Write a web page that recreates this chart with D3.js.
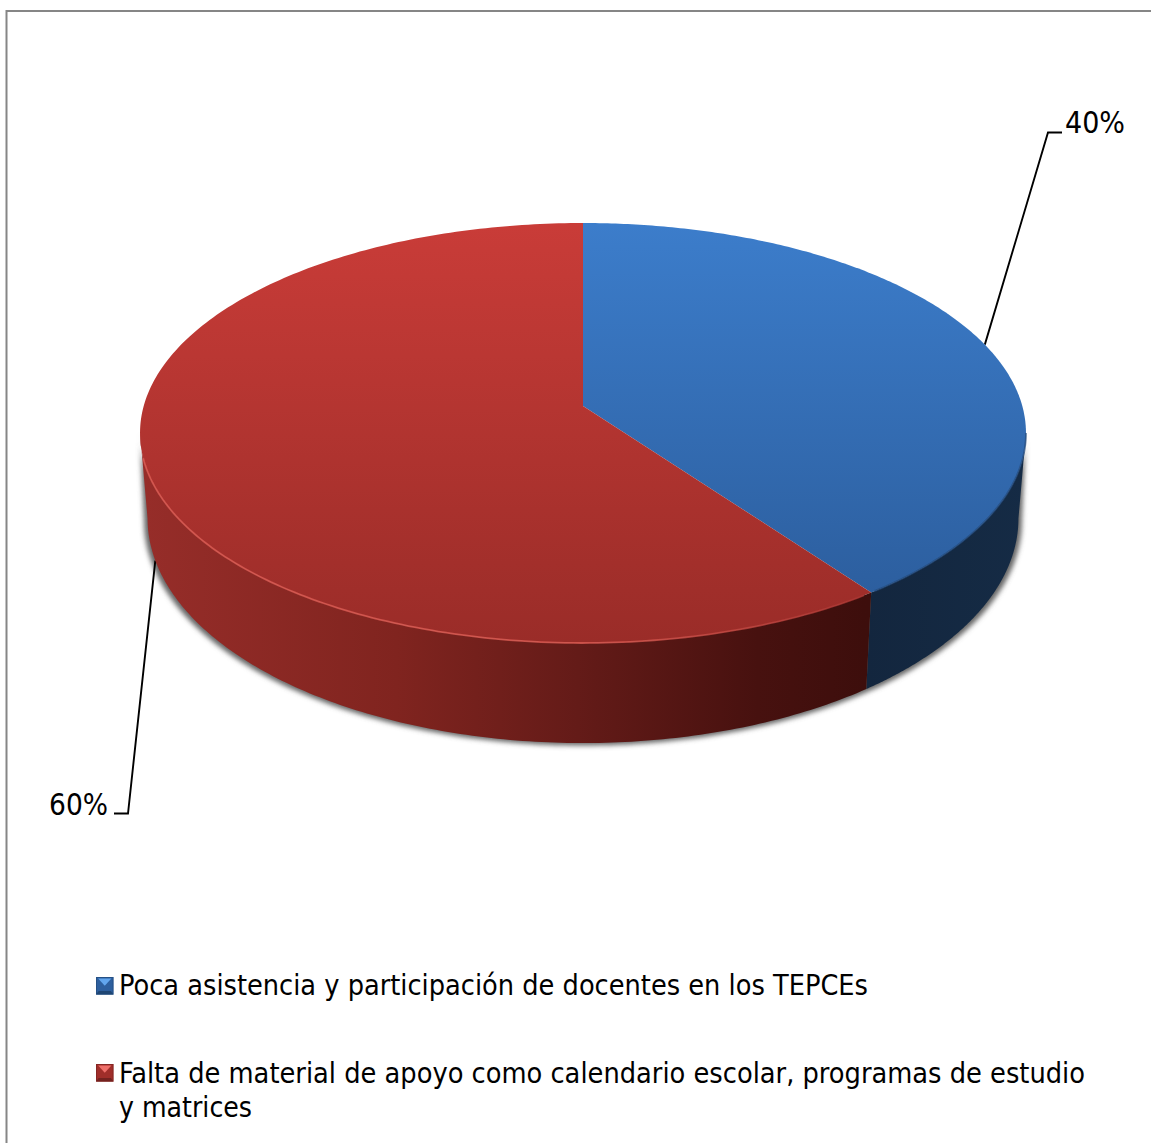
<!DOCTYPE html>
<html><head><meta charset="utf-8">
<script src="https://cdnjs.cloudflare.com/ajax/libs/d3/7.9.0/d3.min.js"></script>
<style>html,body{margin:0;padding:0;background:#fff;overflow:hidden}svg{display:block}text{font-family:"DejaVu Sans Condensed","DejaVu Sans",sans-serif;font-stretch:condensed;fill:#000}</style>
</head><body>
<script>
const categories = ["Poca asistencia y participación de docentes en los TEPCEs","Falta de material de apoyo como calendario escolar, programas de estudio y matrices"];
const values = [40, 60];
const legendLines = [["Poca asistencia y participación de docentes en los TEPCEs"],["Falta de material de apoyo como calendario escolar, programas de estudio","y matrices"]];

const W=1151,H=1143;
const svg=d3.select("body").append("svg").attr("width",W).attr("height",H);
const defs=svg.append("defs");
function grad(id,x1,y1,x2,y2,stops){
  const g=defs.append("linearGradient").attr("id",id).attr("gradientUnits","userSpaceOnUse")
   .attr("x1",x1).attr("y1",y1).attr("x2",x2).attr("y2",y2);
  stops.forEach(s=>g.append("stop").attr("offset",s[0]).attr("stop-color",s[1]));
}
grad("topB",0,223,0,600,[[0,"#3c7dcb"],[1,"#2c5e9e"]]);
grad("topR",0,223,0,643,[[0,"#c93c38"],[1,"#9a2c28"]]);
grad("wallB",866,0,1026,0,[[0,"#13263e"],[1,"#152b45"]]);
grad("wallR",145,0,866,0,[[0,"#962d29"],[.35,"#80241f"],[.6,"#641b18"],[.85,"#47110f"],[1,"#3d0e0c"]]);
grad("rimR",150,0,880,0,[[0,"#dc5b53"],[.6,"#dc5b53"],[1,"#a8322e"]]);
defs.append("filter").attr("id","blur").attr("x","-5%").attr("y","-5%").attr("width","110%").attr("height","110%")
  .append("feGaussianBlur").attr("stdDeviation",2.8);
defs.append("filter").attr("id","soft").attr("x","-5%").attr("y","-5%").attr("width","110%").attr("height","110%")
  .append("feGaussianBlur").attr("stdDeviation",0.7);

// frame
svg.append("path").attr("d",d3.line()([[6.5,H],[6.5,11],[W,11]])).attr("fill","none").attr("stroke","#868686").attr("stroke-width",2);

// perspective projection of the unit disc
const cx=583,R=439.3,c=0.1286;
const yTop=d3.scaleLinear().domain([-1,1]).range([560.3,251.7]);
const yBot=d3.scaleLinear().domain([-1,1]).range([647.5,331.5]);
const project=(a,disc)=>{
  const u=Math.sin(a),v=Math.cos(a),w=1+c*v;
  return disc==="top" ? [cx+R*u/w, yTop(v)/w] : [cx+0.983*R*u/w, yBot(v)/w];
};
const pts=(a0,a1,disc,n=160)=>d3.range(n+1).map(i=>project(a0+(a1-a0)*i/n,disc));
const line=d3.line();

const arcs=d3.pie().sort(null)(values);
const fills=[{top:"url(#topB)",wall:"url(#wallB)"},{top:"url(#topR)",wall:"url(#wallR)"}];
const tilt=Math.asin(c);
const visibleFrom=Math.PI/2+tilt, visibleTo=3*Math.PI/2-tilt;

// shadow
const shadowArc=pts(visibleFrom,visibleTo,"bot").map(p=>[cx+(p[0]-cx)*1.008,p[1]+2.5]);
svg.append("path").attr("d",line(shadowArc.concat(pts(visibleTo,visibleFrom,"top")))+"Z").attr("fill","#666").attr("filter","url(#blur)");

// leader lines, below the pie
const anchor0=project((arcs[0].startAngle+arcs[0].endAngle)/2,"top");
const anchor1=project((arcs[1].startAngle+arcs[1].endAngle)/2,"bot");
svg.append("path").attr("d",line([anchor0,[1048,132.5],[1062,132.5]])).attr("fill","none").attr("stroke","#000").attr("stroke-width",1.9);
svg.append("path").attr("d",line([anchor1,[128,813.5],[114,813.5]])).attr("fill","none").attr("stroke","#000").attr("stroke-width",1.9);

// walls
arcs.forEach((d,i)=>{
  const a0=Math.max(d.startAngle,visibleFrom), a1=Math.min(d.endAngle,visibleTo);
  const t=pts(a0,a1,"top"), b=pts(a1,a0,"bot");
  svg.append("path").attr("d",line(t.concat(b))+"Z").attr("fill",fills[i].wall);
});
// top faces
const apex=[cx,yTop(0)];
arcs.forEach((d,i)=>{
  svg.append("path").attr("d",line([apex].concat(pts(d.startAngle,d.endAngle,"top",240)))+"Z").attr("fill",fills[i].top);
});
// rims
svg.append("path").attr("d",line(pts(arcs[1].startAngle+0.02,visibleTo-0.12,"top",120))).attr("fill","none").attr("stroke","url(#rimR)").attr("stroke-width",1.8).attr("opacity",.8).attr("filter","url(#soft)");
svg.append("path").attr("d",line(pts(visibleFrom,arcs[0].endAngle-0.01,"top",80))).attr("fill","none").attr("stroke","#234a7b").attr("stroke-width",1.8).attr("opacity",.7).attr("filter","url(#soft)");

// data labels
const pct=d3.format(".0%");
const total=d3.sum(values);
const lbl=[{x:1065,y:133,w:60},{x:49,y:815,w:59}];
arcs.forEach((d,i)=>{
  svg.append("text").attr("x",lbl[i].x).attr("y",lbl[i].y).attr("font-size",30)
    .attr("textLength",lbl[i].w).attr("lengthAdjust","spacingAndGlyphs").text(pct(d.value/total));
});

// legend
const swatches=[{x:96,y:977,base:"#2d5f9e",lite:"#62a6ee",dark:"#1f4674"},{x:96,y:1064,base:"#a02e2a",lite:"#ee6f6a",dark:"#742220"}];
const s=17.5;
swatches.forEach(k=>{
  const L=d3.scaleLinear().domain([0,1]).range([k.x,k.x+s]), T=d3.scaleLinear().domain([0,1]).range([k.y,k.y+s]);
  svg.append("rect").attr("x",k.x).attr("y",k.y).attr("width",s).attr("height",s).attr("fill",k.base);
  svg.append("path").attr("d",line([[L(.12),T(.08)],[L(.88),T(.08)],[L(.5),T(.5)]])+"Z").attr("fill",k.lite);
  svg.append("path").attr("d",line([[L(0),T(1)],[L(1),T(1)],[L(.85),T(.8)],[L(.15),T(.8)]])+"Z").attr("fill",k.dark);
  svg.append("rect").attr("x",k.x+.5).attr("y",k.y+.5).attr("width",s-1).attr("height",s-1).attr("fill","none").attr("stroke",k.dark).attr("stroke-opacity",.6);
});
const legendPos=[[{x:119,y:995,w:749}],[{x:119,y:1082.5,w:966},{x:119,y:1117,w:133}]];
legendLines.forEach((ls,i)=>ls.forEach((t,j)=>{
  svg.append("text").attr("x",legendPos[i][j].x).attr("y",legendPos[i][j].y).attr("font-size",28.5)
    .attr("textLength",legendPos[i][j].w).attr("lengthAdjust","spacingAndGlyphs").text(t);
}));
</script>
</body></html>
